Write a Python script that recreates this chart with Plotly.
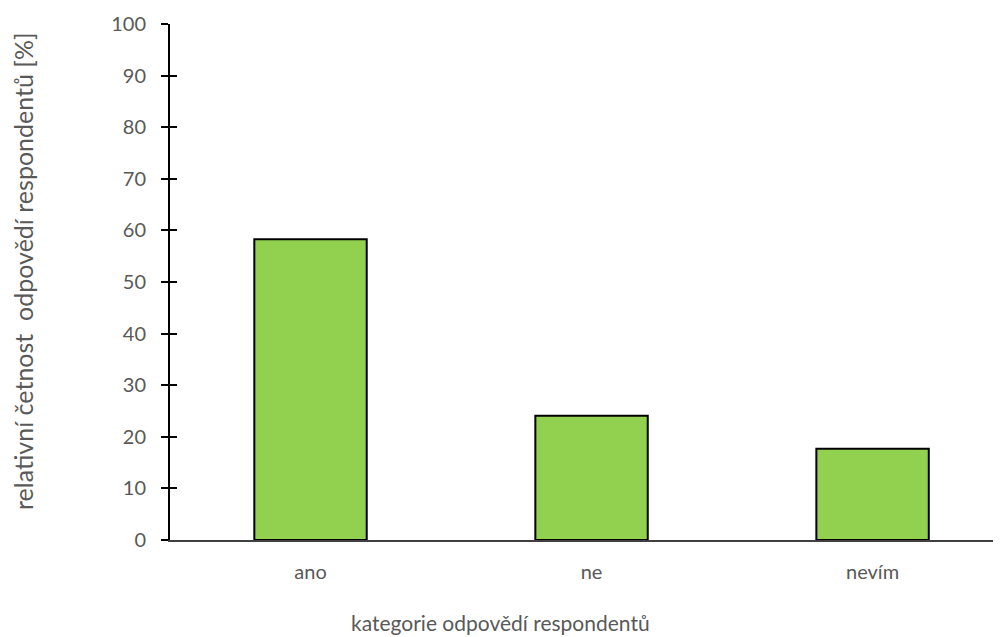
import plotly.graph_objects as go

categories = ["ano", "ne", "nevím"]
values = [58.3, 24.1, 17.7]
y_ticks = [0, 10, 20, 30, 40, 50, 60, 70, 80, 90, 100]

FONT = "Lato"
GRAY = "#595959"

W, H = 993, 629          # page body has an 8px margin
L, T, B, R = 162, 16, 97, 0
pw, ph = W - L - R, H - T - B

def px(x):  # figure pixel -> paper x
    return (x - L) / pw

def py(y):  # figure pixel -> paper y
    return (H - B - y) / ph

fig = go.Figure()
fig.add_trace(go.Bar(
    x=categories, y=values,
    marker=dict(color="#92D050", line=dict(color="black", width=2)),
    width=0.4, hoverinfo="skip",
))
fig.add_trace(go.Scatter(x=categories, y=[None] * 3, yaxis="y2", showlegend=False, hoverinfo="skip"))

fig.update_layout(
    width=W, height=H,
    margin=dict(l=L, r=R, t=T, b=B, pad=0),
    paper_bgcolor="white", plot_bgcolor="white",
    showlegend=False,
    font=dict(family=FONT, color=GRAY, size=20),
    xaxis=dict(
        range=[-0.5, 2.457], showgrid=False, zeroline=False,
        showline=True, linecolor="#404040", linewidth=1.5,
        ticks="", tickfont=dict(size=20, color=GRAY, family=FONT),
        ticklabelstandoff=13,
    ),
    yaxis=dict(
        range=[0, 100], tickvals=y_ticks, showgrid=False, zeroline=False,
        showline=True, linecolor="black", linewidth=2,
        ticks="outside", ticklen=7, tickwidth=2, tickcolor="black",
        tickfont=dict(size=20, color=GRAY, family=FONT),
        ticklabelstandoff=11,
    ),
    yaxis2=dict(
        range=[0, 100], tickvals=y_ticks, overlaying="y", side="left",
        showgrid=False, zeroline=False, showline=False,
        ticks="inside", ticklen=7, tickwidth=2, tickcolor="black",
        showticklabels=False,
    ),
    annotations=[
        dict(text="kategorie odpovědí respondentů", xref="paper", yref="paper",
             x=px(492), y=py(614), xanchor="center", yanchor="middle",
             showarrow=False, font=dict(size=21, color=GRAY, family=FONT)),
        dict(text="relativní četnost  odpovědí respondentů [%]", textangle=-90,
             xref="paper", yref="paper", x=px(15), y=py(263),
             xanchor="center", yanchor="middle",
             showarrow=False, font=dict(size=25, color=GRAY, family=FONT)),
    ],
)

fig.write_html("out.html")
